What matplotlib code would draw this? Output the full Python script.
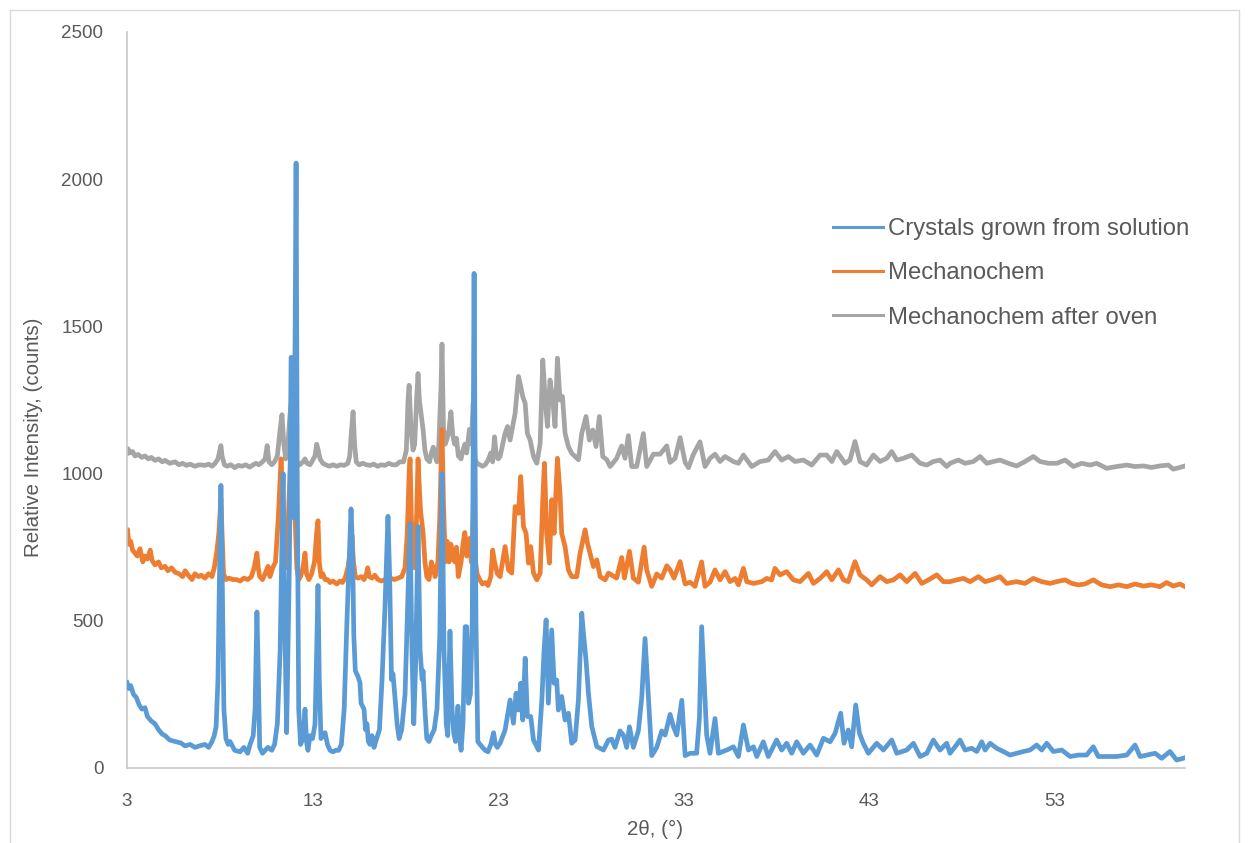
import matplotlib
matplotlib.use('Agg')
import matplotlib.pyplot as plt
import numpy as np
from matplotlib.patches import Rectangle

plt.rcParams['font.family'] = ['Liberation Sans', 'DejaVu Sans']

# XRD patterns: (2theta, counts)
crystals = [
    (3.00, 290), (3.10, 270), (3.20, 280), (3.35, 250), (3.50, 240), (3.65, 215), (3.80, 200), (3.97, 205),
    (4.10, 175), (4.30, 160), (4.51, 150), (4.70, 130), (4.90, 115), (5.05, 110), (5.30, 95), (5.59, 90),
    (5.90, 85), (6.13, 75), (6.40, 80), (6.66, 70), (6.90, 75), (7.20, 80), (7.40, 70), (7.58, 90),
    (7.70, 110), (7.80, 140), (7.90, 300), (7.97, 600), (8.06, 960), (8.14, 600), (8.22, 200), (8.33, 100),
    (8.45, 80), (8.55, 90), (8.80, 60), (9.09, 55), (9.30, 70), (9.50, 50), (9.63, 80), (9.80, 110),
    (9.90, 200), (10.00, 530), (10.07, 330), (10.15, 70), (10.30, 50), (10.44, 60), (10.60, 70), (10.80, 60),
    (10.95, 80), (11.10, 150), (11.25, 400), (11.41, 1000), (11.50, 500), (11.60, 120), (11.75, 700), (11.84, 1395),
    (11.92, 1380), (11.98, 850), (12.06, 1500), (12.11, 2055), (12.17, 1000), (12.25, 200), (12.35, 80), (12.48, 100),
    (12.59, 200), (12.67, 90), (12.75, 60), (12.86, 110), (13.00, 100), (13.13, 150), (13.22, 400), (13.29, 620),
    (13.36, 300), (13.45, 100), (13.55, 110), (13.67, 120), (13.80, 80), (13.94, 60), (14.10, 55), (14.25, 60),
    (14.40, 60), (14.55, 80), (14.70, 200), (14.85, 500), (15.07, 880), (15.15, 750), (15.22, 450), (15.30, 330),
    (15.45, 310), (15.55, 290), (15.61, 220), (15.77, 200), (15.85, 130), (15.93, 150), (16.00, 90), (16.09, 80),
    (16.20, 110), (16.31, 70), (16.45, 100), (16.60, 130), (16.74, 300), (16.90, 550), (17.06, 855), (17.15, 650),
    (17.25, 300), (17.33, 320), (17.45, 230), (17.55, 150), (17.66, 100), (17.80, 130), (17.98, 250), (18.14, 600),
    (18.25, 830), (18.35, 400), (18.45, 150), (18.55, 350), (18.68, 820), (18.79, 400), (18.90, 300), (18.95, 330),
    (19.05, 200), (19.15, 100), (19.27, 90), (19.40, 110), (19.55, 130), (19.70, 200), (19.85, 450), (19.97, 1000),
    (20.08, 400), (20.20, 150), (20.28, 110), (20.40, 465), (20.51, 200), (20.60, 120), (20.70, 90), (20.83, 210),
    (20.92, 100), (21.00, 60), (21.10, 150), (21.22, 480), (21.30, 480), (21.40, 220), (21.50, 250), (21.60, 500),
    (21.70, 1680), (21.80, 500), (21.90, 90), (22.02, 80), (22.15, 70), (22.30, 60), (22.45, 55), (22.60, 80),
    (22.75, 120), (22.85, 80), (22.95, 70), (23.10, 84), (23.37, 129), (23.64, 231), (23.82, 152), (23.96, 254),
    (24.09, 197), (24.21, 288), (24.32, 163), (24.45, 373), (24.57, 175), (24.75, 175), (24.90, 95), (25.17, 61),
    (25.35, 231), (25.47, 401), (25.58, 503), (25.70, 220), (25.88, 469), (26.01, 288), (26.15, 299), (26.24, 197),
    (26.42, 243), (26.60, 163), (26.78, 186), (26.96, 84), (27.14, 95), (27.32, 231), (27.50, 526), (27.59, 458),
    (27.73, 367), (27.86, 254), (28.04, 141), (28.31, 73), (28.67, 61), (28.94, 95), (29.11, 98), (29.29, 70),
    (29.56, 126), (29.74, 112), (29.92, 70), (30.07, 140), (30.28, 70), (30.55, 126), (30.73, 238), (30.91, 440),
    (31.09, 238), (31.27, 42), (31.54, 70), (31.81, 126), (31.99, 112), (32.26, 182), (32.44, 140), (32.62, 112),
    (32.89, 230), (33.07, 42), (33.34, 50), (33.69, 50), (33.84, 170), (33.96, 480), (34.09, 300), (34.23, 112),
    (34.41, 50), (34.68, 168), (34.86, 50), (35.31, 61), (35.67, 72), (35.94, 39), (36.21, 146), (36.48, 61),
    (36.75, 72), (36.93, 39), (37.28, 89), (37.55, 39), (38.00, 95), (38.27, 61), (38.54, 84), (38.81, 50),
    (39.08, 89), (39.44, 50), (39.80, 78), (40.16, 44), (40.52, 101), (40.88, 89), (41.15, 118), (41.45, 186),
    (41.63, 84), (41.86, 129), (42.04, 72), (42.26, 214), (42.46, 118), (42.67, 84), (42.94, 50), (43.39, 84),
    (43.75, 61), (44.20, 95), (44.47, 50), (45.01, 61), (45.37, 84), (45.73, 39), (46.09, 50), (46.44, 95),
    (46.80, 61), (47.16, 84), (47.34, 50), (47.61, 72), (47.88, 95), (48.15, 61), (48.51, 67), (48.78, 56),
    (49.05, 89), (49.23, 61), (49.50, 84), (49.85, 67), (50.21, 56), (50.57, 44), (50.93, 50), (51.29, 56),
    (51.65, 61), (52.01, 78), (52.28, 61), (52.55, 84), (52.91, 56), (53.36, 61), (53.81, 39), (54.25, 44),
    (54.70, 44), (55.06, 72), (55.33, 39), (55.78, 39), (56.32, 39), (56.86, 44), (57.31, 78), (57.58, 39),
    (57.94, 44), (58.39, 50), (58.74, 33), (59.19, 56), (59.55, 27), (59.91, 33), (60.00, 35),
]

mechanochem = [
    (3.00, 780), (3.03, 810), (3.10, 760), (3.20, 770), (3.30, 740), (3.43, 730), (3.55, 720), (3.70, 745),
    (3.85, 700), (3.97, 720), (4.10, 710), (4.25, 740), (4.35, 705), (4.51, 690), (4.70, 700), (4.85, 680),
    (5.05, 685), (5.20, 670), (5.40, 680), (5.59, 665), (5.80, 660), (6.00, 650), (6.13, 670), (6.30, 655),
    (6.50, 640), (6.66, 660), (6.85, 650), (7.00, 655), (7.20, 645), (7.40, 660), (7.58, 650), (7.70, 680),
    (7.85, 740), (7.95, 800), (8.06, 915), (8.12, 800), (8.20, 660), (8.33, 640), (8.50, 645), (8.70, 640),
    (8.90, 640), (9.09, 635), (9.30, 645), (9.50, 640), (9.70, 650), (9.85, 680), (10.00, 730), (10.07, 680),
    (10.15, 650), (10.30, 640), (10.44, 660), (10.60, 685), (10.70, 650), (10.85, 680), (11.00, 700), (11.15, 850),
    (11.30, 1050), (11.41, 900), (11.50, 700), (11.60, 680), (11.72, 900), (11.84, 1095), (11.95, 950), (12.05, 860),
    (12.15, 680), (12.25, 640), (12.35, 650), (12.48, 680), (12.59, 730), (12.67, 660), (12.80, 640), (12.95, 660),
    (13.10, 700), (13.22, 800), (13.29, 840), (13.36, 700), (13.45, 650), (13.55, 660), (13.67, 640), (13.80, 640),
    (13.94, 630), (14.10, 635), (14.30, 625), (14.48, 635), (14.60, 630), (14.75, 645), (14.90, 680), (15.07, 750),
    (15.12, 790), (15.20, 700), (15.30, 650), (15.45, 645), (15.61, 650), (15.77, 640), (15.90, 660), (15.97, 680),
    (16.05, 650), (16.20, 645), (16.35, 655), (16.52, 640), (16.70, 635), (16.90, 640), (17.06, 650), (17.20, 645),
    (17.40, 640), (17.60, 645), (17.80, 650), (17.98, 680), (18.10, 800), (18.20, 1000), (18.25, 1050), (18.32, 850),
    (18.41, 700), (18.50, 680), (18.60, 850), (18.68, 1050), (18.75, 950), (18.82, 870), (18.95, 800), (19.05, 700),
    (19.15, 650), (19.27, 640), (19.40, 700), (19.49, 680), (19.60, 650), (19.75, 700), (19.85, 850), (19.97, 1150),
    (20.05, 900), (20.15, 700), (20.25, 770), (20.35, 700), (20.45, 760), (20.56, 720), (20.66, 700), (20.75, 750),
    (20.85, 650), (21.00, 700), (21.10, 760), (21.20, 800), (21.30, 720), (21.45, 780), (21.55, 700), (21.62, 800),
    (21.70, 945), (21.78, 700), (21.86, 660), (22.00, 640), (22.15, 625), (22.30, 630), (22.45, 620), (22.60, 650),
    (22.70, 740), (22.80, 700), (22.95, 660), (23.10, 650), (23.37, 752), (23.55, 673), (23.73, 662), (23.91, 888),
    (24.09, 865), (24.21, 990), (24.36, 820), (24.50, 797), (24.63, 696), (24.75, 752), (24.90, 662), (25.08, 639),
    (25.26, 662), (25.40, 911), (25.49, 1035), (25.61, 797), (25.76, 696), (25.88, 911), (26.01, 797), (26.19, 1052),
    (26.33, 933), (26.42, 797), (26.60, 752), (26.78, 673), (26.96, 650), (27.23, 650), (27.41, 729), (27.68, 809),
    (27.81, 763), (27.99, 718), (28.13, 684), (28.31, 707), (28.49, 650), (28.76, 639), (28.94, 662), (29.38, 645),
    (29.65, 715), (29.80, 645), (30.07, 736), (30.28, 645), (30.55, 631), (30.86, 750), (31.00, 673), (31.27, 617),
    (31.54, 659), (31.81, 645), (32.08, 687), (32.26, 673), (32.47, 645), (32.80, 701), (33.07, 625), (33.34, 631),
    (33.60, 617), (33.96, 700), (34.14, 617), (34.41, 631), (34.68, 673), (34.95, 639), (35.22, 667), (35.49, 633),
    (35.76, 644), (35.94, 622), (36.21, 678), (36.39, 633), (36.75, 627), (37.20, 633), (37.46, 644), (37.73, 639),
    (37.91, 678), (38.18, 656), (38.54, 667), (38.90, 639), (39.26, 633), (39.71, 661), (39.98, 627), (40.34, 644),
    (40.70, 667), (40.97, 639), (41.33, 673), (41.60, 639), (41.86, 633), (42.22, 701), (42.49, 656), (42.85, 639),
    (43.12, 622), (43.57, 650), (43.93, 633), (44.29, 639), (44.65, 656), (45.01, 633), (45.46, 661), (45.82, 627),
    (46.18, 639), (46.63, 656), (46.98, 633), (47.34, 633), (47.70, 639), (48.06, 644), (48.42, 633), (48.87, 650),
    (49.23, 633), (49.58, 639), (50.03, 650), (50.39, 627), (50.93, 633), (51.38, 627), (51.83, 644), (52.28, 633),
    (52.73, 627), (53.09, 633), (53.54, 639), (53.90, 627), (54.25, 622), (54.61, 625), (55.06, 639), (55.51, 622),
    (55.96, 616), (56.41, 622), (56.86, 616), (57.31, 625), (57.76, 618), (58.20, 622), (58.65, 616), (59.01, 630),
    (59.37, 618), (59.73, 625), (60.00, 616),
]

after_oven = [
    (3.00, 1070), (3.05, 1085), (3.15, 1070), (3.30, 1075), (3.43, 1060), (3.60, 1065), (3.80, 1055), (3.97, 1060),
    (4.15, 1050), (4.30, 1055), (4.51, 1045), (4.70, 1050), (4.90, 1040), (5.05, 1045), (5.30, 1035), (5.59, 1040),
    (5.80, 1030), (6.00, 1035), (6.20, 1028), (6.40, 1032), (6.66, 1025), (6.90, 1030), (7.20, 1028), (7.40, 1032),
    (7.58, 1025), (7.75, 1035), (7.90, 1050), (8.01, 1080), (8.06, 1095), (8.12, 1060), (8.25, 1030), (8.40, 1025),
    (8.60, 1030), (8.80, 1020), (9.00, 1028), (9.20, 1025), (9.40, 1030), (9.60, 1022), (9.80, 1030), (9.95, 1035),
    (10.10, 1030), (10.30, 1040), (10.44, 1050), (10.55, 1095), (10.65, 1040), (10.80, 1030), (10.95, 1040), (11.10, 1060),
    (11.25, 1150), (11.35, 1200), (11.45, 1100), (11.55, 1050), (11.67, 1100), (11.78, 1200), (11.86, 1250), (11.95, 1130),
    (12.05, 1080), (12.15, 1040), (12.30, 1030), (12.48, 1040), (12.59, 1050), (12.70, 1035), (12.86, 1030), (13.00, 1045),
    (13.13, 1060), (13.22, 1100), (13.30, 1080), (13.40, 1050), (13.55, 1035), (13.70, 1030), (13.90, 1025), (14.10, 1030),
    (14.30, 1025), (14.50, 1030), (14.70, 1028), (14.90, 1035), (15.00, 1060), (15.10, 1150), (15.18, 1210), (15.26, 1100),
    (15.35, 1040), (15.50, 1030), (15.70, 1035), (15.90, 1030), (16.10, 1028), (16.30, 1032), (16.50, 1025), (16.70, 1030),
    (16.90, 1028), (17.10, 1035), (17.30, 1030), (17.50, 1030), (17.70, 1040), (17.90, 1040), (18.05, 1080), (18.14, 1250),
    (18.20, 1300), (18.30, 1150), (18.41, 1080), (18.50, 1100), (18.60, 1250), (18.68, 1340), (18.75, 1250), (18.85, 1200),
    (18.95, 1150), (19.05, 1080), (19.15, 1050), (19.30, 1040), (19.40, 1070), (19.50, 1090), (19.60, 1060), (19.70, 1040),
    (19.80, 1100), (19.92, 1300), (19.97, 1440), (20.05, 1150), (20.15, 1100), (20.25, 1120), (20.35, 1150), (20.45, 1210),
    (20.55, 1130), (20.65, 1100), (20.75, 1120), (20.85, 1060), (21.00, 1050), (21.10, 1080), (21.20, 1100), (21.30, 1070),
    (21.45, 1150), (21.55, 1100), (21.65, 1240), (21.75, 1050), (21.86, 1035), (22.00, 1030), (22.15, 1025), (22.30, 1030),
    (22.45, 1045), (22.60, 1070), (22.70, 1040), (22.80, 1125), (22.90, 1060), (23.00, 1050), (23.10, 1058), (23.37, 1137),
    (23.50, 1160), (23.64, 1114), (23.91, 1205), (24.09, 1330), (24.21, 1296), (24.32, 1262), (24.45, 1239), (24.57, 1137),
    (24.72, 1114), (24.90, 1058), (25.08, 1035), (25.26, 1103), (25.40, 1386), (25.52, 1262), (25.65, 1160), (25.79, 1318),
    (25.94, 1250), (26.06, 1160), (26.19, 1392), (26.33, 1250), (26.46, 1262), (26.60, 1137), (26.78, 1092), (26.96, 1069),
    (27.14, 1058), (27.32, 1047), (27.50, 1137), (27.73, 1194), (27.91, 1114), (28.09, 1148), (28.27, 1092), (28.45, 1194),
    (28.63, 1058), (28.85, 1047), (29.03, 1024), (29.38, 1052), (29.65, 1094), (29.83, 1052), (30.01, 1129), (30.19, 1024),
    (30.46, 1024), (30.82, 1136), (31.00, 1024), (31.36, 1066), (31.72, 1066), (32.08, 1094), (32.26, 1038), (32.53, 1052),
    (32.80, 1122), (33.07, 1038), (33.25, 1020), (33.52, 1066), (33.87, 1108), (34.14, 1024), (34.41, 1052), (34.68, 1066),
    (34.95, 1041), (35.22, 1058), (35.67, 1041), (35.94, 1035), (36.21, 1063), (36.66, 1024), (37.10, 1041), (37.55, 1046),
    (37.91, 1075), (38.27, 1046), (38.63, 1058), (38.99, 1041), (39.44, 1046), (39.89, 1029), (40.34, 1063), (40.70, 1063),
    (40.97, 1041), (41.24, 1075), (41.68, 1035), (41.95, 1046), (42.22, 1109), (42.49, 1041), (42.85, 1029), (43.21, 1063),
    (43.57, 1041), (43.93, 1052), (44.20, 1075), (44.47, 1046), (44.83, 1052), (45.28, 1063), (45.73, 1035), (46.09, 1029),
    (46.44, 1041), (46.80, 1046), (47.16, 1024), (47.34, 1035), (47.79, 1046), (48.15, 1035), (48.60, 1041), (48.96, 1058),
    (49.32, 1035), (49.67, 1041), (50.03, 1046), (50.48, 1035), (50.93, 1026), (51.38, 1041), (51.83, 1058), (52.19, 1041),
    (52.64, 1035), (53.09, 1035), (53.54, 1046), (53.99, 1024), (54.43, 1035), (54.88, 1029), (55.24, 1035), (55.78, 1018),
    (56.32, 1024), (56.86, 1029), (57.31, 1024), (57.76, 1026), (58.20, 1021), (58.65, 1026), (59.10, 1029), (59.37, 1015),
    (59.73, 1021), (60.00, 1026),
]

series_names = ["Crystals grown from solution", "Mechanochem", "Mechanochem after oven"]
series_colors = ["#5B9BD5", "#ED7D31", "#A5A5A5"]
x_ticks = [3, 13, 23, 33, 43, 53]
y_ticks = [0, 500, 1000, 1500, 2000, 2500]

fig = plt.figure(figsize=(12.48, 8.43), dpi=100)
# light frame around the chart area
fig.patches.append(Rectangle((10 / 1248, -0.01), 1229 / 1248, 1 - 10 / 843 + 0.01,
                             transform=fig.transFigure, fill=False,
                             edgecolor="#D9D9D9", linewidth=1))
ax = fig.add_axes([127 / 1248, 1 - 768 / 843, 1058 / 1248, 736 / 843])

lines = []
for data, name, color, z in zip([crystals, mechanochem, after_oven], series_names, series_colors, [3, 2, 1]):
    arr = np.array(data)
    ln, = ax.plot(arr[:, 0], arr[:, 1], color=color, linewidth=3.4, label=name,
                  solid_joinstyle='round', zorder=z)
    lines.append(ln)

ax.set_xlim(3, 60)
ax.set_ylim(0, 2500)
ax.set_xticks(x_ticks)
ax.set_yticks(y_ticks)

for side in ["top", "right"]:
    ax.spines[side].set_visible(False)
for side in ["left", "bottom"]:
    ax.spines[side].set_color("#C8C8C8")
    ax.spines[side].set_linewidth(1.2)

ax.tick_params(axis="both", length=0, labelcolor="#595959", labelsize=13.5)
ax.tick_params(axis="y", pad=17)
ax.tick_params(axis="x", pad=18)

ax.set_ylabel("Relative Intensity, (counts)", color="#595959", fontsize=14.8)
ax.yaxis.set_label_coords(-0.0794, 0.449)
ax.set_xlabel("2θ, (°)", color="#595959", fontsize=14.8)
ax.xaxis.set_label_coords(0.499, -0.071)

leg = ax.legend(handles=lines, loc="upper left", bbox_to_anchor=(0.667, 0.747),
                frameon=False, fontsize=17.2, handlelength=2.1, handletextpad=0.2,
                labelspacing=0.93, borderpad=0, borderaxespad=0)
for t in leg.get_texts():
    t.set_color("#595959")
for h in leg.get_lines():
    h.set_linewidth(2.2)

fig.savefig("out.png", dpi=100)
plt.close(fig)
